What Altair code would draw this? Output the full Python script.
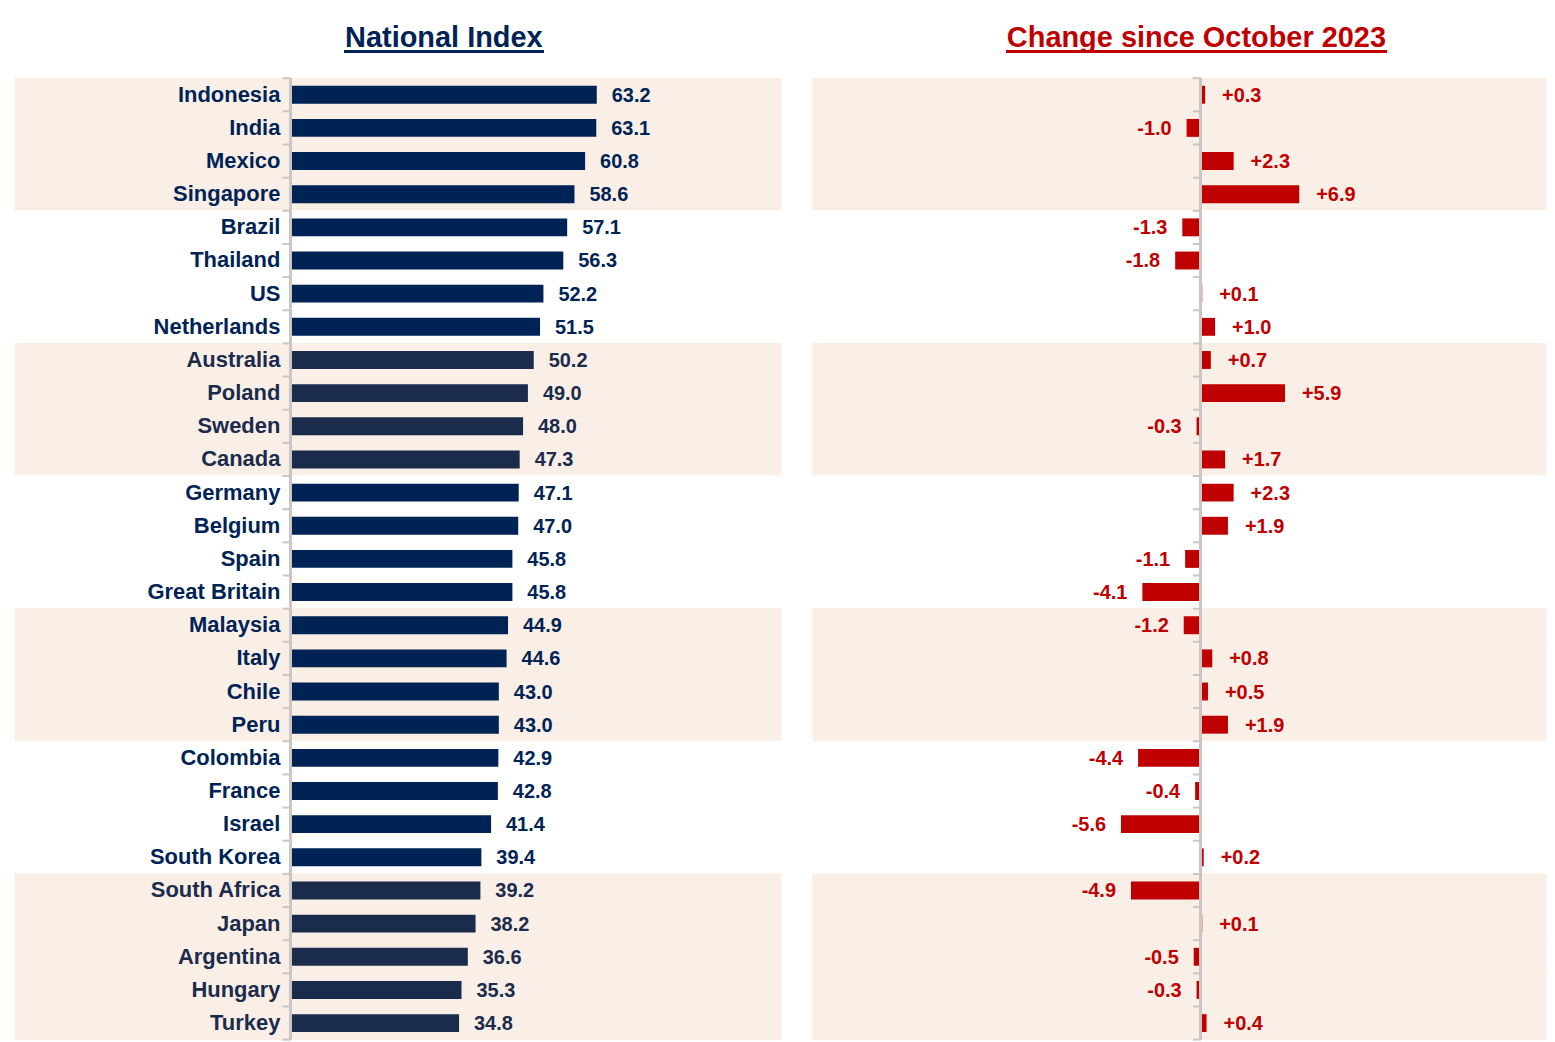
import altair as alt
import pandas as pd

countries = ["Indonesia", "India", "Mexico", "Singapore", "Brazil", "Thailand", "US",
             "Netherlands", "Australia", "Poland", "Sweden", "Canada", "Germany", "Belgium",
             "Spain", "Great Britain", "Malaysia", "Italy", "Chile", "Peru", "Colombia",
             "France", "Israel", "South Korea", "South Africa", "Japan", "Argentina",
             "Hungary", "Turkey"]
index_values = [63.2, 63.1, 60.8, 58.6, 57.1, 56.3, 52.2, 51.5, 50.2, 49.0, 48.0, 47.3,
                47.1, 47.0, 45.8, 45.8, 44.9, 44.6, 43.0, 43.0, 42.9, 42.8, 41.4, 39.4,
                39.2, 38.2, 36.6, 35.3, 34.8]
changes = [0.3, -1.0, 2.3, 6.9, -1.3, -1.8, 0.1, 1.0, 0.7, 5.9, -0.3, 1.7, 2.3, 1.9,
           -1.1, -4.1, -1.2, 0.8, 0.5, 1.9, -4.4, -0.4, -5.6, 0.2, -4.9, 0.1, -0.5,
           -0.3, 0.4]
titles = ["National Index", "Change since October 2023"]

NAVY = "#002355"
NAVY2 = "#1b2b4c"
RED = "#c00000"
BEIGE = "#faefe7"
GREY = "#cbc6c4"

rows = list(range(len(countries)))
groups = [min(r // 4, 6) for r in rows]
df = pd.DataFrame({
    "country": countries,
    "index": index_values,
    "change": changes,
    "index_label": [f"{v:.1f}" for v in index_values],
    "change_label": [f"{v:+.1f}" for v in changes],
    "band": ["beige" if g % 2 == 0 else "white" for g in groups],
    "tone": ["b" if g in (2, 6) else "a" for g in groups],
    "last": [r == len(countries) - 1 for r in rows],
})

H = 964
LW, RW = 768, 735
LDOM = [-56.8, 101.2]
RDOM = [-27.2, 24.2]

yscale = alt.Scale(domain=countries, paddingInner=0, paddingOuter=0)
Y = alt.Y("country:N", scale=yscale, axis=None, sort=countries)
Y0 = alt.Y("country:N", scale=yscale, axis=None, sort=countries, bandPosition=0)
Y1 = alt.Y("country:N", scale=yscale, axis=None, sort=countries, bandPosition=1)
band_scale = alt.Scale(domain=["beige", "white"], range=[BEIGE, "#ffffff"])
band_fill = alt.Fill("band:N", scale=band_scale, legend=None)
band_stroke = alt.Stroke("band:N", scale=band_scale, legend=None)
tone_col = alt.Color("tone:N", scale=alt.Scale(domain=["a", "b"], range=[NAVY, NAVY2]), legend=None)


def panel_base(dom, width):
    xs = alt.Scale(domain=dom, nice=False, zero=False)
    tick_len = (dom[1] - dom[0]) * 8 / width
    base = alt.Chart(df).transform_calculate(
        zero="0", lo=str(dom[0]), hi=str(dom[1]), tk=str(-tick_len))
    bands = base.mark_rect(strokeWidth=1).encode(
        y=Y, x=alt.X("lo:Q", scale=xs, axis=None), x2="hi:Q", fill=band_fill, stroke=band_stroke)
    axis_line = base.mark_rule(color=GREY, strokeWidth=2).encode(
        x=alt.X("zero:Q", scale=xs, axis=None))
    ticks = base.mark_rule(color=GREY, strokeWidth=2).encode(
        y=Y0, x=alt.X("zero:Q", scale=xs, axis=None), x2="tk:Q")
    last_tick = base.transform_filter(alt.datum.last).mark_rule(color=GREY, strokeWidth=2).encode(
        y=Y1, x=alt.X("zero:Q", scale=xs, axis=None), x2="tk:Q")
    return xs, base, bands, axis_line, ticks, last_tick


def title(text, color, dx):
    return alt.TitleParams(text, fontSize=29, font="Liberation Sans", fontWeight="bold",
                           color=color, anchor="middle", dx=dx, offset=-26, baseline="alphabetic")


# ---------- left panel ----------
xs, base, bands, axis_line, ticks, last_tick = panel_base(LDOM, LW)
bars = base.mark_bar(height={"band": 0.54}).encode(
    y=Y, x=alt.X("index:Q", scale=xs, axis=None), x2="zero:Q", color=tone_col)
vals = base.mark_text(align="left", baseline="middle", dx=15, dy=1, fontSize=20,
                      font="Liberation Sans", fontWeight="bold").encode(
    y=Y, x=alt.X("index:Q", scale=xs, axis=None), text="index_label:N", color=tone_col)
cats = base.mark_text(align="right", baseline="middle", dx=-10, fontSize=22,
                      font="Liberation Sans", fontWeight="bold").encode(
    y=Y, x=alt.X("zero:Q", scale=xs, axis=None), text="country:N", color=tone_col)
underline_l = alt.Chart(df).mark_rule(color=NAVY, strokeWidth=2.5).encode(
    x=alt.value(330), x2=alt.value(530), y=alt.value(-27))

left = alt.layer(bands, bars, vals, cats, axis_line, ticks, last_tick, underline_l).properties(
    width=LW, height=H, title=title(titles[0], NAVY, 46))

# ---------- right panel ----------
xs, base, bands, axis_line, ticks, last_tick = panel_base(RDOM, RW)
rbars = base.mark_bar(height={"band": 0.54}, color=RED).encode(
    y=Y, x=alt.X("change:Q", scale=xs, axis=None), x2="zero:Q")
pos = base.transform_filter(alt.datum.change >= 0).mark_text(
    align="left", baseline="middle", dx=17, dy=1, fontSize=20, font="Liberation Sans",
    fontWeight="bold", color=RED).encode(
    y=Y, x=alt.X("change:Q", scale=xs, axis=None), text="change_label:N")
neg = base.transform_filter(alt.datum.change < 0).mark_text(
    align="right", baseline="middle", dx=-15, dy=1, fontSize=20, font="Liberation Sans",
    fontWeight="bold", color=RED).encode(
    y=Y, x=alt.X("change:Q", scale=xs, axis=None), text="change_label:N")
underline_r = alt.Chart(df).mark_rule(color=RED, strokeWidth=2.5).encode(
    x=alt.value(194), x2=alt.value(575), y=alt.value(-27))

right = alt.layer(bands, rbars, pos, neg, axis_line, ticks, last_tick, underline_r).properties(
    width=RW, height=H, title=title(titles[1], RED, 17))

chart = alt.hconcat(left, right, spacing=30).resolve_scale(x="independent").configure_view(
    stroke=None).properties(padding={"left": 6, "top": 14, "right": 0, "bottom": 0})

chart.save("out.html", embed_options={"renderer": "svg", "actions": False})
